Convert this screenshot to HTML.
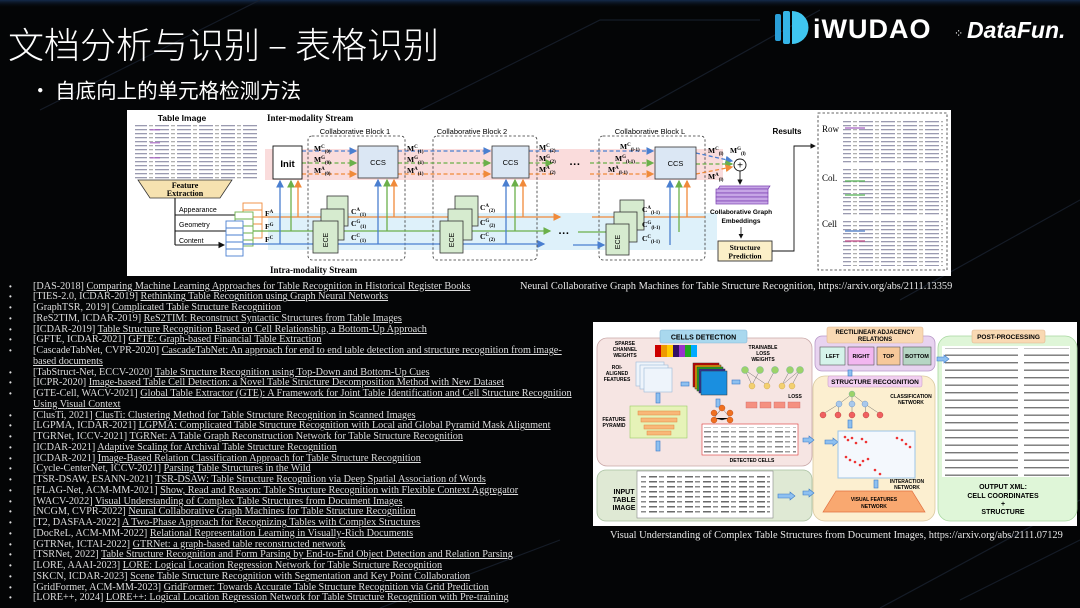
<!DOCTYPE html>
<html><head><meta charset="utf-8">
<style>
html,body{margin:0;padding:0;}
body{width:1080px;height:608px;background:#040506;position:relative;overflow:hidden;font-family:"Liberation Sans","Noto Sans CJK SC",sans-serif;}
#bg{position:absolute;left:0;top:0;}
.title{position:absolute;left:8px;top:21px;color:#fff;font-size:36px;font-family:"Noto Sans CJK SC","WenQuanYi Zen Hei",sans-serif;font-weight:300;line-height:44px;white-space:nowrap;}
.sub{position:absolute;left:30px;top:76px;color:#fff;font-size:20.5px;font-family:"Noto Sans CJK SC",sans-serif;line-height:26px;white-space:nowrap;}
.list{position:absolute;left:0;top:281.6px;font-family:"Liberation Serif","Noto Serif CJK SC",serif;font-size:10.2px;line-height:10.75px;color:#ddd;white-space:nowrap;}
.list div{position:relative;padding-left:33px;height:10.75px;}
.list div.b:before{content:"•";position:absolute;left:9px;top:0;font-family:"Liberation Sans",sans-serif;font-size:8px;}
.list u{text-decoration:underline;}
.cap{position:absolute;font-family:"Liberation Serif",serif;font-size:10.4px;color:#e8e8e8;white-space:nowrap;}
svg text{font-family:"Liberation Sans",sans-serif;}
.sf{font-family:"Liberation Serif",serif !important;}
</style></head><body>
<svg id="bg" width="1080" height="608" viewBox="0 0 1080 608">
<defs>
<linearGradient id="tg" x1="0" y1="0" x2="0" y2="1"><stop offset="0" stop-color="#142a4a"/><stop offset="1" stop-color="#040506" stop-opacity="0"/></linearGradient>
<pattern id="tbl" width="22" height="4" patternUnits="userSpaceOnUse"><rect x="1" y="1" width="14" height="1.3" fill="#9a9ab0"/><rect x="17" y="1" width="4" height="1.3" fill="#b0b0b0"/></pattern>
<pattern id="tbl2" width="18" height="5" patternUnits="userSpaceOnUse"><rect x="1" y="1" width="8" height="1.5" fill="#6a6a6a"/><rect x="11" y="1" width="5" height="1.5" fill="#8a8a8a"/></pattern>
<pattern id="xml" width="128" height="7.5" patternUnits="userSpaceOnUse"><rect x="0" y="2" width="122" height="1.4" fill="#777"/></pattern>
<marker id="ab" markerWidth="6" markerHeight="6" refX="5" refY="3" orient="auto"><path d="M0,0L6,3L0,6z" fill="#4a7fd0"/></marker>
<marker id="ag" markerWidth="6" markerHeight="6" refX="5" refY="3" orient="auto"><path d="M0,0L6,3L0,6z" fill="#6bb04a"/></marker>
<marker id="ao" markerWidth="6" markerHeight="6" refX="5" refY="3" orient="auto"><path d="M0,0L6,3L0,6z" fill="#f08a3a"/></marker>
<marker id="ak" markerWidth="6" markerHeight="6" refX="5" refY="3" orient="auto"><path d="M0,0L6,3L0,6z" fill="#111"/></marker>
</defs>
<rect x="0" y="0" width="1080" height="8" fill="url(#tg)"/>
<g stroke="#1a2230" stroke-width="1.2" fill="none" opacity="0.8">
<path d="M40,110 L260,0"/><path d="M420,110 L600,20 L760,20"/><path d="M640,110 L820,10"/><path d="M900,300 L1080,200"/><path d="M960,600 L1080,540"/><path d="M380,608 L560,540"/><path d="M880,608 L1080,500"/>
</g>

<!-- ===== Figure 1 ===== -->
<rect x="127" y="110" width="824" height="166" fill="#fff"/>
<text x="182" y="121" font-size="8.5" font-weight="bold" text-anchor="middle">Table Image</text>
<rect x="135" y="125" width="123" height="55" fill="url(#tbl)"/>
<g opacity="0.7"><rect x="150" y="129" width="10" height="1.5" fill="#a25cc0"/><rect x="150" y="142" width="10" height="1.5" fill="#a25cc0"/><rect x="150" y="157" width="10" height="1.5" fill="#a25cc0"/></g>
<path d="M138,180 L232,180 L220,198 L150,198 Z" fill="#f6e2b0" stroke="#333" stroke-width="0.8"/>
<text x="185" y="188" font-size="8" font-weight="bold" text-anchor="middle" class="sf">Feature</text>
<text x="185" y="196" font-size="8" font-weight="bold" text-anchor="middle" class="sf">Extraction</text>
<g stroke="#111" stroke-width="1.1" fill="none">
<path d="M175,198 V245"/><path d="M175,215 H243"/><path d="M175,231 H235"/><path d="M175,245 H224" marker-end="url(#ak)"/>
</g>
<text x="179" y="212" font-size="7">Appearance</text>
<text x="179" y="227" font-size="7">Geometry</text>
<text x="179" y="243" font-size="7">Content</text>
<rect x="265" y="149" width="458" height="31" fill="#fadcdc"/>
<rect x="268" y="213" width="449" height="37" fill="#def1fa"/>
<g fill="#fff" stroke-width="0.9">
<g stroke="#f08a3a"><rect x="243" y="203" width="19" height="35"/><path d="M243,210H262M243,217H262M243,224H262M243,231H262"/></g>
<g stroke="#6bb04a"><rect x="235" y="212" width="18" height="34" fill="#fff"/><path d="M235,219H253M235,226H253M235,233H253M235,240H253"/></g>
<g stroke="#4a7fd0"><rect x="226" y="221" width="17" height="35" fill="#fff"/><path d="M226,228H243M226,235H243M226,242H243M226,249H243"/></g>
</g>
<text x="267" y="121" font-size="9" font-weight="bold" class="sf">Inter-modality Stream</text>
<text x="270" y="273" font-size="9" font-weight="bold" class="sf">Intra-modality Stream</text>
<g fill="none" stroke="#333" stroke-dasharray="2.5,2" stroke-width="0.8">
<rect x="308" y="136" width="97" height="124" rx="4"/>
<rect x="433" y="136" width="104" height="124" rx="4"/>
<rect x="599" y="136" width="106" height="124" rx="4"/>
</g>
<text x="355" y="134" font-size="7.5" text-anchor="middle">Collaborative Block 1</text>
<text x="472" y="134" font-size="7.5" text-anchor="middle">Collaborative Block 2</text>
<text x="650" y="134" font-size="7.5" text-anchor="middle">Collaborative Block L</text>
<g stroke-width="1.3" fill="none">
<path d="M262,217 H560" stroke="#f08a3a" marker-end="url(#ao)"/>
<path d="M253,231 H550" stroke="#6bb04a" marker-end="url(#ag)"/>
<path d="M243,244 H544" stroke="#4a7fd0" marker-end="url(#ab)"/>
<path d="M592,217 H705" stroke="#f08a3a"/>
<path d="M578,232 H612" stroke="#6bb04a"/>
<path d="M573,245 H604" stroke="#4a7fd0" marker-end="url(#ab)"/>
<path d="M280,244 V181" stroke="#4a7fd0" marker-end="url(#ab)"/>
<path d="M291,231 V181" stroke="#6bb04a" marker-end="url(#ag)"/>
<path d="M298,217 V181" stroke="#f08a3a" marker-end="url(#ao)"/>
<path d="M378,244 V180" stroke="#4a7fd0" marker-end="url(#ab)"/>
<path d="M387,231 V180" stroke="#6bb04a" marker-end="url(#ag)"/>
<path d="M394,217 V180" stroke="#f08a3a" marker-end="url(#ao)"/>
<path d="M506,244 V180" stroke="#4a7fd0" marker-end="url(#ab)"/>
<path d="M515,231 V180" stroke="#6bb04a" marker-end="url(#ag)"/>
<path d="M523,217 V180" stroke="#f08a3a" marker-end="url(#ao)"/>
<path d="M670,245 V181" stroke="#4a7fd0" marker-end="url(#ab)"/>
<path d="M679,232 V181" stroke="#6bb04a" marker-end="url(#ag)"/>
<path d="M687,217 V181" stroke="#f08a3a" marker-end="url(#ao)"/>
</g>
<g stroke-width="1.3" fill="none" stroke-dasharray="4,2.5">
<path d="M302,151 H356" stroke="#4a7fd0" marker-end="url(#ab)"/>
<path d="M302,163 H356" stroke="#6bb04a" marker-end="url(#ag)"/>
<path d="M302,174 H356" stroke="#f08a3a" marker-end="url(#ao)"/>
<path d="M398,151 H490" stroke="#4a7fd0" marker-end="url(#ab)"/>
<path d="M398,163 H490" stroke="#6bb04a" marker-end="url(#ag)"/>
<path d="M398,174 H490" stroke="#f08a3a" marker-end="url(#ao)"/>
<path d="M529,151 H560" stroke="#4a7fd0"/>
<path d="M529,163 H552" stroke="#6bb04a" marker-end="url(#ag)"/>
<path d="M529,174 H555" stroke="#f08a3a"/>
<path d="M590,151 H653" stroke="#4a7fd0" marker-end="url(#ab)"/>
<path d="M590,163 H653" stroke="#6bb04a" marker-end="url(#ag)"/>
<path d="M590,174 H653" stroke="#f08a3a" marker-end="url(#ao)"/>
<path d="M696,153 L732,161" stroke="#4a7fd0" marker-end="url(#ab)"/>
<path d="M696,164 H732" stroke="#6bb04a" marker-end="url(#ag)"/>
<path d="M696,174 L732,167" stroke="#f08a3a" marker-end="url(#ao)"/>
</g>
<rect x="273" y="146" width="29" height="33" fill="#fff" stroke="#111" stroke-width="0.9"/>
<text x="287.5" y="167" font-size="9.5" font-weight="bold" text-anchor="middle">Init</text>
<g fill="#dbe7f4" stroke="#333" stroke-width="0.8">
<rect x="358" y="146" width="40" height="32"/><rect x="492" y="146" width="37" height="32"/><rect x="655" y="147" width="41" height="32"/>
</g>
<text x="378" y="165" font-size="7.5" text-anchor="middle">CCS</text>
<text x="510.5" y="165" font-size="7.5" text-anchor="middle">CCS</text>
<text x="675.5" y="166" font-size="7.5" text-anchor="middle">CCS</text>
<g fill="#d6ebcf" stroke="#333" stroke-width="0.8">
<rect x="327" y="196" width="21" height="30"/><rect x="321" y="209" width="23" height="31"/><rect x="313" y="221" width="25" height="32"/>
<rect x="455" y="196" width="23" height="30"/><rect x="448" y="209" width="24" height="31"/><rect x="440" y="221" width="23" height="32"/>
<rect x="620" y="200" width="24" height="30"/><rect x="614" y="212" width="23" height="30"/><rect x="606" y="224" width="23" height="31"/>
</g>
<g font-size="7" text-anchor="middle">
<text transform="translate(328,240) rotate(-90)">ECE</text>
<text transform="translate(454,240) rotate(-90)">ECE</text>
<text transform="translate(620,242) rotate(-90)">ECE</text>
</g>
<g font-size="7.5" font-weight="bold" class="sf">
<text x="314" y="151" class="sf">M<tspan font-size="5" dy="-3">C</tspan><tspan font-size="5" dy="5">(0)</tspan></text>
<text x="314" y="162" class="sf">M<tspan font-size="5" dy="-3">G</tspan><tspan font-size="5" dy="5">(0)</tspan></text>
<text x="314" y="173" class="sf">M<tspan font-size="5" dy="-3">A</tspan><tspan font-size="5" dy="5">(0)</tspan></text>
<text x="407" y="151" class="sf">M<tspan font-size="5" dy="-3">C</tspan><tspan font-size="5" dy="5">(1)</tspan></text>
<text x="407" y="162" class="sf">M<tspan font-size="5" dy="-3">G</tspan><tspan font-size="5" dy="5">(1)</tspan></text>
<text x="407" y="173" class="sf">M<tspan font-size="5" dy="-3">A</tspan><tspan font-size="5" dy="5">(1)</tspan></text>
<text x="539" y="150" class="sf">M<tspan font-size="5" dy="-3">C</tspan><tspan font-size="5" dy="5">(2)</tspan></text>
<text x="539" y="161" class="sf">M<tspan font-size="5" dy="-3">G</tspan><tspan font-size="5" dy="5">(2)</tspan></text>
<text x="539" y="172" class="sf">M<tspan font-size="5" dy="-3">A</tspan><tspan font-size="5" dy="5">(2)</tspan></text>
<text x="620" y="149" class="sf">M<tspan font-size="5" dy="-3">C</tspan><tspan font-size="5" dy="5">(l-1)</tspan></text>
<text x="615" y="161" class="sf">M<tspan font-size="5" dy="-3">G</tspan><tspan font-size="5" dy="5">(l-1)</tspan></text>
<text x="608" y="172" class="sf">M<tspan font-size="5" dy="-3">A</tspan><tspan font-size="5" dy="5">(l-1)</tspan></text>
<text x="708" y="153" class="sf">M<tspan font-size="5" dy="-3">C</tspan><tspan font-size="5" dy="5">(l)</tspan></text>
<text x="730" y="153" class="sf">M<tspan font-size="5" dy="-3">G</tspan><tspan font-size="5" dy="5">(l)</tspan></text>
<text x="708" y="179" class="sf">M<tspan font-size="5" dy="-3">A</tspan><tspan font-size="5" dy="5">(l)</tspan></text>
<text x="265" y="216" class="sf">F<tspan font-size="5" dy="-3">A</tspan></text>
<text x="265" y="229" class="sf">F<tspan font-size="5" dy="-3">G</tspan></text>
<text x="265" y="242" class="sf">F<tspan font-size="5" dy="-3">C</tspan></text>
<text x="351" y="214" class="sf">C<tspan font-size="5" dy="-3">A</tspan><tspan font-size="5" dy="5">(1)</tspan></text>
<text x="351" y="226" class="sf">C<tspan font-size="5" dy="-3">G</tspan><tspan font-size="5" dy="5">(1)</tspan></text>
<text x="351" y="240" class="sf">C<tspan font-size="5" dy="-3">C</tspan><tspan font-size="5" dy="5">(1)</tspan></text>
<text x="480" y="210" class="sf">C<tspan font-size="5" dy="-3">A</tspan><tspan font-size="5" dy="5">(2)</tspan></text>
<text x="480" y="225" class="sf">C<tspan font-size="5" dy="-3">G</tspan><tspan font-size="5" dy="5">(2)</tspan></text>
<text x="480" y="239" class="sf">C<tspan font-size="5" dy="-3">C</tspan><tspan font-size="5" dy="5">(2)</tspan></text>
<text x="642" y="212" class="sf">C<tspan font-size="5" dy="-3">A</tspan><tspan font-size="5" dy="5">(l-1)</tspan></text>
<text x="642" y="227" class="sf">C<tspan font-size="5" dy="-3">G</tspan><tspan font-size="5" dy="5">(l-1)</tspan></text>
<text x="642" y="241" class="sf">C<tspan font-size="5" dy="-3">C</tspan><tspan font-size="5" dy="5">(l-1)</tspan></text>
</g>
<text x="575" y="168" font-size="11" font-weight="bold" text-anchor="middle">···</text>
<text x="564" y="237" font-size="11" font-weight="bold" text-anchor="middle">···</text>
<circle cx="740" cy="165" r="6" fill="#fff" stroke="#111" stroke-width="0.9"/>
<text x="740" y="168.5" font-size="10" text-anchor="middle">+</text>
<path d="M740,171 V184" stroke="#111" stroke-width="0.9" marker-end="url(#ak)"/>
<g fill="#c7a6e6" stroke="#7a3fb0" stroke-width="0.7">
<path d="M718,189 L768,189 L770,186 L720,186Z"/>
<rect x="716" y="189" width="52" height="4"/><rect x="716" y="193" width="52" height="4"/><rect x="716" y="197" width="52" height="4"/><rect x="716" y="201" width="52" height="3"/>
</g>
<text x="741" y="214" font-size="6.5" font-weight="bold" text-anchor="middle">Collaborative Graph</text>
<text x="741" y="223" font-size="6.5" font-weight="bold" text-anchor="middle">Embeddings</text>
<path d="M741,227 V238" stroke="#111" stroke-width="0.8" marker-end="url(#ak)"/>
<rect x="718" y="241" width="54" height="20" fill="#fbefc8" stroke="#333" stroke-width="0.9"/>
<text x="745" y="250" font-size="7.5" font-weight="bold" text-anchor="middle" class="sf">Structure</text>
<text x="745" y="258.5" font-size="7.5" font-weight="bold" text-anchor="middle" class="sf">Prediction</text>
<path d="M772,251 H794 V146 H815" fill="none" stroke="#111" stroke-width="0.9" marker-end="url(#ak)"/>
<text x="787" y="134" font-size="8" font-weight="bold" text-anchor="middle">Results</text>
<rect x="818" y="113" width="129" height="157" fill="none" stroke="#333" stroke-dasharray="2.5,2" stroke-width="0.8"/>
<text x="822" y="132" font-size="9" class="sf">Row</text>
<text x="822" y="181" font-size="9" class="sf">Col.</text>
<text x="822" y="227" font-size="9" class="sf">Cell</text>
<rect x="843" y="121" width="100" height="44" fill="url(#tbl)"/>
<rect x="843" y="168" width="100" height="47" fill="url(#tbl)"/>
<rect x="843" y="220" width="100" height="46" fill="url(#tbl)"/>
<g opacity="0.6"><rect x="845" y="127" width="20" height="2" fill="#a25cc0"/><rect x="845" y="180" width="20" height="2" fill="#4cb04c"/><rect x="845" y="194" width="20" height="2" fill="#4cb04c"/><rect x="845" y="230" width="20" height="2" fill="#3a6fc0"/><rect x="845" y="240" width="20" height="2" fill="#c04080"/></g>

<!-- ===== Figure 2 ===== -->
<rect x="593" y="322" width="484" height="204" fill="#fff"/>
<rect x="597" y="338" width="215" height="128" rx="10" fill="#f6e5e3" stroke="#c9a8a8" stroke-width="0.8"/>
<rect x="597" y="470" width="215" height="51" rx="9" fill="#dfe9d4" stroke="#a8c0a0" stroke-width="0.8"/>
<rect x="813" y="376" width="122" height="145" rx="12" fill="#fcefd0" stroke="#d9c9a0" stroke-width="0.8"/>
<rect x="815" y="336" width="120" height="35" rx="7" fill="#e8d3f0" stroke="#b899c8" stroke-width="0.8"/>
<rect x="938" y="336" width="139" height="185" rx="12" fill="#dff6d8" stroke="#a8d8a0" stroke-width="0.8"/>
<rect x="660" y="330" width="87" height="13" rx="2" fill="#a9d8ee" stroke="#88b8d8" stroke-width="0.6"/>
<text x="703.5" y="339.5" font-size="7" font-weight="bold" text-anchor="middle">CELLS DETECTION</text>
<rect x="827" y="327" width="96" height="16" rx="2" fill="#f9d9b3" stroke="#e0b890" stroke-width="0.6"/>
<text x="875" y="334" font-size="6" font-weight="bold" text-anchor="middle">RECTILINEAR ADJACENCY</text>
<text x="875" y="341" font-size="6" font-weight="bold" text-anchor="middle">RELATIONS</text>
<rect x="972" y="330" width="73" height="13" rx="2" fill="#f9d9b3" stroke="#e0b890" stroke-width="0.6"/>
<text x="1008.5" y="339" font-size="6.5" font-weight="bold" text-anchor="middle">POST-PROCESSING</text>
<rect x="828" y="376" width="94" height="11" rx="2" fill="#f2cff0" stroke="#c8a0c8" stroke-width="0.6"/>
<text x="875" y="384" font-size="6.5" font-weight="bold" text-anchor="middle">STRUCTURE RECOGNITION</text>
<g stroke="#555" stroke-width="0.6">
<rect x="820" y="347" width="25" height="18" fill="#d5f3ea"/><rect x="848" y="347" width="26" height="18" fill="#f2b6f0"/><rect x="877" y="347" width="23" height="18" fill="#f6c89a"/><rect x="903" y="347" width="28" height="18" fill="#b6d6c4"/>
</g>
<g font-size="5.5" font-weight="bold" text-anchor="middle">
<text x="832.5" y="358">LEFT</text><text x="861" y="358">RIGHT</text><text x="888.5" y="358">TOP</text><text x="917" y="358">BOTTOM</text>
</g>
<rect x="942" y="346" width="128" height="131" fill="#fff"/>
<rect x="945" y="348" width="124" height="128" fill="url(#xml)"/>
<g font-size="7" font-weight="bold" text-anchor="middle">
<text x="1003" y="489">OUTPUT XML:</text><text x="1003" y="498">CELL COORDINATES</text><text x="1003" y="506">+</text><text x="1003" y="514">STRUCTURE</text>
</g>
<g font-size="5" font-weight="bold" text-anchor="middle">
<text x="625" y="345">SPARSE</text><text x="625" y="351">CHANNEL</text><text x="625" y="357">WEIGHTS</text>
<text x="617" y="369">ROI-</text><text x="617" y="375">ALIGNED</text><text x="617" y="381">FEATURES</text>
<text x="614" y="421">FEATURE</text><text x="614" y="427">PYRAMID</text>
<text x="763" y="349">TRAINABLE</text><text x="763" y="355">LOSS</text><text x="763" y="361">WEIGHTS</text>
<text x="752" y="462">DETECTED CELLS</text>
<text x="624" y="494" font-size="7">INPUT</text><text x="624" y="502" font-size="7">TABLE</text><text x="624" y="510" font-size="7">IMAGE</text>
<text x="911" y="398" font-size="5">CLASSIFICATION</text><text x="911" y="404" font-size="5">NETWORK</text>
<text x="907" y="483" font-size="5">INTERACTION</text><text x="907" y="489" font-size="5">NETWORK</text>
<text x="795" y="398" font-size="5">LOSS</text>
</g>
<g>
<rect x="655" y="345" width="6" height="12" fill="#c00"/><rect x="661" y="345" width="6" height="12" fill="#e90"/><rect x="667" y="345" width="6" height="12" fill="#fc0"/><rect x="673" y="345" width="6" height="12" fill="#316"/><rect x="679" y="345" width="6" height="12" fill="#93c"/><rect x="685" y="345" width="6" height="12" fill="#2a2"/><rect x="691" y="345" width="6" height="12" fill="#0af"/>
</g>
<g fill="#eef4fb" stroke="#9bb8d8" stroke-width="0.6">
<rect x="636" y="362" width="28" height="24"/><rect x="640" y="365" width="28" height="24"/><rect x="644" y="368" width="28" height="24"/>
</g>
<g stroke="#333" stroke-width="0.5">
<rect x="693" y="363" width="26" height="24" fill="#c00"/><rect x="695" y="365" width="26" height="24" fill="#e90"/><rect x="697" y="367" width="26" height="24" fill="#2a2"/><rect x="699" y="369" width="26" height="24" fill="#339"/><rect x="701" y="371" width="26" height="24" fill="#1a8fe0"/>
</g>
<rect x="630" y="406" width="57" height="32" fill="#e6f3b8" stroke="#9c6" stroke-width="0.6"/>
<g fill="#f8b878" stroke="#e08840" stroke-width="0.5"><rect x="638" y="411" width="42" height="4"/><rect x="641" y="418" width="36" height="4"/><rect x="644" y="425" width="30" height="4"/><rect x="647" y="431" width="24" height="4"/></g>
<g fill="#8ec0f0" stroke="#3a7ac8" stroke-width="0.6">
<rect x="656" y="393" width="4" height="10"/><rect x="656" y="441" width="4" height="10"/><rect x="681" y="382" width="8" height="4"/><rect x="732" y="380" width="8" height="4"/><rect x="716" y="399" width="4" height="8"/>
<path d="M803,438 h6 v-2 l5,4 l-5,4 v-2 h-6z"/><path d="M803,491 h6 v-2 l5,4 l-5,4 v-2 h-6z"/>
<path d="M825,440 h8 v-2 l5,4 l-5,4 v-2 h-8z"/>
<path d="M778,441 h12 v-2 l5,4 l-5,4 v-2 h-12z"/><path d="M778,494 h12 v-2 l5,4 l-5,4 v-2 h-12z"/>
<path d="M937,357 h7 v-2 l5,4 l-5,4 v-2 h-7z"/>
<rect x="848" y="420" width="4" height="8"/><rect x="848" y="370" width="4" height="6"/><rect x="874" y="480" width="4" height="8"/>
</g>
<g stroke="#555" stroke-width="0.4">
<path d="M745,370 L752,385 M760,370 L752,385 M775,370 L767,385 M790,370 L782,385 M800,370 L792,385 M745,370 L767,385 M800,370 L782,385"/>
<path d="M722,408 L714,418 L722,408 L730,418 M714,418 L722,420 L730,418"/>
<path d="M852,394 L839,404 M852,394 L852,404 M852,394 L865,404 M839,404 L823,414 M839,404 L838,414 M852,404 L852,414 M865,404 L866,414 M865,404 L880,414"/>
</g>
<g fill="#9cd36a" stroke="#6a9" stroke-width="0.4"><circle cx="745" cy="370" r="3.5"/><circle cx="760" cy="370" r="3.5"/><circle cx="775" cy="370" r="3.5"/><circle cx="790" cy="370" r="3.5"/><circle cx="800" cy="370" r="3.5"/><circle cx="852" cy="394" r="3"/></g>
<g fill="#f3d070" stroke="#c9a040" stroke-width="0.4"><circle cx="752" cy="386" r="3"/><circle cx="767" cy="386" r="3"/><circle cx="782" cy="386" r="3"/><circle cx="792" cy="386" r="3"/></g>
<g fill="#f59080" stroke="#c66" stroke-width="0.4"><rect x="746" y="402" width="11" height="6"/><rect x="760" y="402" width="11" height="6"/><rect x="774" y="402" width="11" height="6"/><rect x="788" y="402" width="12" height="6"/></g>
<g fill="#f07020" stroke="#b04010" stroke-width="0.4"><circle cx="714" cy="413" r="3"/><circle cx="722" cy="408" r="3"/><circle cx="730" cy="413" r="3"/><circle cx="714" cy="420" r="3"/><circle cx="730" cy="420" r="3"/></g>
<g fill="#a8c8ec" stroke="#5a88c0" stroke-width="0.4"><circle cx="839" cy="404" r="3"/><circle cx="852" cy="404" r="3"/><circle cx="865" cy="404" r="3"/></g>
<g fill="#f06060" stroke="#b03030" stroke-width="0.4"><circle cx="823" cy="415" r="3"/><circle cx="838" cy="415" r="3"/><circle cx="852" cy="415" r="3"/><circle cx="866" cy="415" r="3"/><circle cx="880" cy="415" r="3"/></g>
<rect x="702" y="424" width="96" height="31" fill="#fff" stroke="#d33" stroke-width="0.6"/>
<rect x="704" y="427" width="92" height="26" fill="url(#tbl2)" opacity="0.8"/>
<rect x="637" y="471" width="136" height="47" fill="#fff" stroke="#888" stroke-width="0.6"/>
<rect x="640" y="473" width="130" height="43" fill="url(#tbl2)"/>
<rect x="838" y="431" width="77" height="47" fill="#f4f8fd" stroke="#9cc4e8" stroke-width="1"/>
<g fill="#e33"><circle cx="845" cy="437" r="1.3"/><circle cx="848" cy="440" r="1.3"/><circle cx="852" cy="438" r="1.3"/><circle cx="856" cy="443" r="1.3"/><circle cx="862" cy="439" r="1.3"/><circle cx="866" cy="442" r="1.3"/><circle cx="897" cy="438" r="1.3"/><circle cx="902" cy="440" r="1.3"/><circle cx="906" cy="444" r="1.3"/><circle cx="910" cy="447" r="1.3"/><circle cx="846" cy="457" r="1.3"/><circle cx="850" cy="460" r="1.3"/><circle cx="855" cy="462" r="1.3"/><circle cx="860" cy="465" r="1.3"/><circle cx="863" cy="461" r="1.3"/><circle cx="868" cy="459" r="1.3"/><circle cx="875" cy="470" r="1.3"/><circle cx="880" cy="474" r="1.3"/></g>
<path d="M823,512 L836,491 L912,491 L925,512 Z" fill="#f9a870" stroke="#e07040" stroke-width="0.7"/>
<text x="874" y="501" font-size="5" font-weight="bold" text-anchor="middle">VISUAL FEATURES</text>
<text x="874" y="508" font-size="5" font-weight="bold" text-anchor="middle">NETWORK</text>
</svg>

<div class="title">文档分析与识别 – 表格识别</div>
<div class="sub">•&nbsp;自底向上的单元格检测方法</div>

<svg style="position:absolute;left:773px;top:8px" width="307" height="42" viewBox="0 0 307 42">
<rect x="2" y="6" width="6" height="27" rx="2" fill="#2a9fd8"/><rect x="10" y="3" width="7" height="33" rx="2" fill="#35b6e8"/>
<path d="M19,3 a16.5,16.5 0 0 1 0,33 z" fill="#3fc6f0"/>
<text x="40" y="30" font-size="27" fill="#fff" font-family="Liberation Sans,sans-serif" font-weight="bold" letter-spacing="1">iWUDAO</text>
<text x="181" y="29" font-size="11" fill="#fff">⁘</text>
<text x="194" y="30" font-size="23" fill="#fff" font-style="italic" font-weight="bold" font-family="Liberation Sans,sans-serif">DataFun.</text>
</svg>

<div class="cap" style="left:520px;top:281px">Neural Collaborative Graph Machines for Table Structure Recognition, https://arxiv.org/abs/2111.13359</div>
<div class="cap" style="left:610px;top:530px">Visual Understanding of Complex Table Structures from Document Images, https://arxiv.org/abs/2111.07129</div>

<div class="list">
<div class="b">[DAS-2018] <u>Comparing Machine Learning Approaches for Table Recognition in Historical Register Books</u></div>
<div class="b">[TIES-2.0, ICDAR-2019] <u>Rethinking Table Recognition using Graph Neural Networks</u></div>
<div class="b">[GraphTSR, 2019] <u>Complicated Table Structure Recognition</u></div>
<div class="b">[ReS2TIM, ICDAR-2019] <u>ReS2TIM: Reconstruct Syntactic Structures from Table Images</u></div>
<div class="b">[ICDAR-2019] <u>Table Structure Recognition Based on Cell Relationship, a Bottom-Up Approach</u></div>
<div class="b">[GFTE, ICDAR-2021] <u>GFTE: Graph-based Financial Table Extraction</u></div>
<div class="b">[CascadeTabNet, CVPR-2020] <u>CascadeTabNet: An approach for end to end table detection and structure recognition from image-</u></div>
<div><u>based documents</u></div>
<div class="b">[TabStruct-Net, ECCV-2020] <u>Table Structure Recognition using Top-Down and Bottom-Up Cues</u></div>
<div class="b">[ICPR-2020] <u>Image-based Table Cell Detection: a Novel Table Structure Decomposition Method with New Dataset</u></div>
<div class="b">[GTE-Cell, WACV-2021] <u>Global Table Extractor (GTE): A Framework for Joint Table Identification and Cell Structure Recognition</u></div>
<div><u>Using Visual Context</u></div>
<div class="b">[ClusTi, 2021] <u>ClusTi: Clustering Method for Table Structure Recognition in Scanned Images</u></div>
<div class="b">[LGPMA, ICDAR-2021] <u>LGPMA: Complicated Table Structure Recognition with Local and Global Pyramid Mask Alignment</u></div>
<div class="b">[TGRNet, ICCV-2021] <u>TGRNet: A Table Graph Reconstruction Network for Table Structure Recognition</u></div>
<div class="b">[ICDAR-2021] <u>Adaptive Scaling for Archival Table Structure Recognition</u></div>
<div class="b">[ICDAR-2021] <u>Image-Based Relation Classification Approach for Table Structure Recognition</u></div>
<div class="b">[Cycle-CenterNet, ICCV-2021] <u>Parsing Table Structures in the Wild</u></div>
<div class="b">[TSR-DSAW, ESANN-2021] <u>TSR-DSAW: Table Structure Recognition via Deep Spatial Association of Words</u></div>
<div class="b">[FLAG-Net, ACM-MM-2021] <u>Show, Read and Reason: Table Structure Recognition with Flexible Context Aggregator</u></div>
<div class="b">[WACV-2022] <u>Visual Understanding of Complex Table Structures from Document Images</u></div>
<div class="b">[NCGM, CVPR-2022] <u>Neural Collaborative Graph Machines for Table Structure Recognition</u></div>
<div class="b">[T2, DASFAA-2022] <u>A Two-Phase Approach for Recognizing Tables with Complex Structures</u></div>
<div class="b">[DocReL, ACM-MM-2022] <u>Relational Representation Learning in Visually-Rich Documents</u></div>
<div class="b">[GTRNet, ICTAI-2022] <u>GTRNet: a graph-based table reconstructed network</u></div>
<div class="b">[TSRNet, 2022] <u>Table Structure Recognition and Form Parsing by End-to-End Object Detection and Relation Parsing</u></div>
<div class="b">[LORE, AAAI-2023] <u>LORE: Logical Location Regression Network for Table Structure Recognition</u></div>
<div class="b">[SKCN, ICDAR-2023] <u>Scene Table Structure Recognition with Segmentation and Key Point Collaboration</u></div>
<div class="b">[GridFormer, ACM-MM-2023] <u>GridFormer: Towards Accurate Table Structure Recognition via Grid Prediction</u></div>
<div class="b">[LORE++, 2024] <u>LORE++: Logical Location Regression Network for Table Structure Recognition with Pre-training</u></div>
</div>
</body></html>
